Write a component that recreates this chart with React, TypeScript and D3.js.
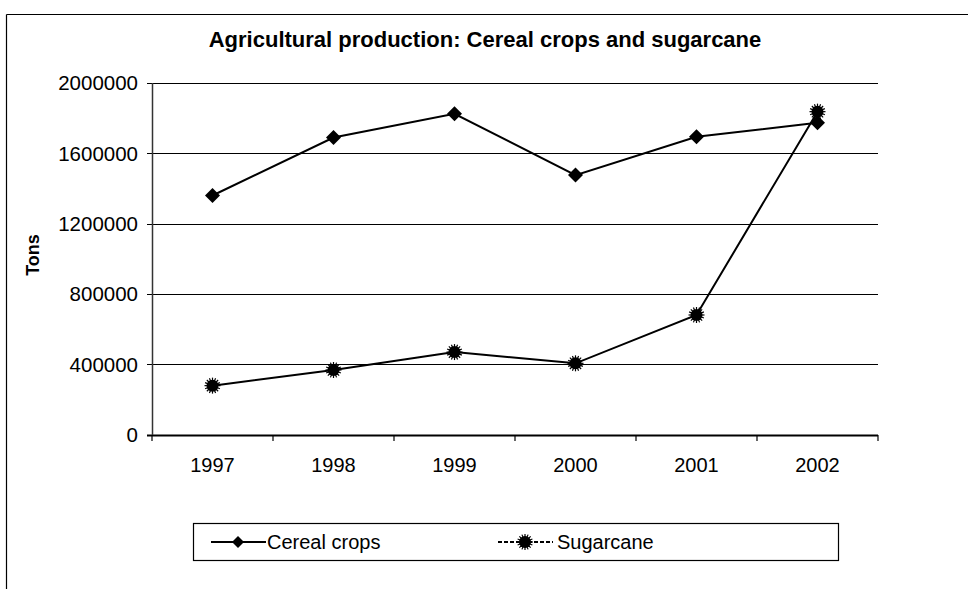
import React from "react";
import * as d3 from "d3";

const years = ["1997", "1998", "1999", "2000", "2001", "2002"];
const cerealCrops = [1360000, 1690000, 1825000, 1476000, 1694000, 1774000];
const sugarcane = [278000, 367000, 469000, 405000, 680000, 1837000];
const yTicks = [0, 400000, 800000, 1200000, 1600000, 2000000];
const titleText = "Agricultural production: Cereal crops and sugarcane";
const yAxisLabel = "Tons";
const seriesNames = ["Cereal crops", "Sugarcane"];

const W = 968;
const H = 589;
const FONT = "'Liberation Sans', Arial, Helvetica, sans-serif";

function Star({ x, y }: { x: number; y: number }) {
  const spikes = d3.range(16).map((i) => (i * Math.PI * 2) / 16);
  return (
    <g transform={`translate(${x},${y})`}>
      <circle r={6} fill="#000" />
      {spikes.map((a, i) => (
        <line
          key={i}
          x1={0}
          y1={0}
          x2={Math.cos(a) * 8}
          y2={Math.sin(a) * 8}
          stroke="#000"
          strokeWidth={1.2}
        />
      ))}
    </g>
  );
}

function Diamond({ x, y, s = 7.5 }: { x: number; y: number; s?: number }) {
  return (
    <path
      d={`M${x},${y - s}L${x + s},${y}L${x},${y + s}L${x - s},${y}Z`}
      fill="#000"
    />
  );
}

export default function App() {
  const x = d3.scaleBand<string>().domain(years).range([152, 878]).padding(0);
  const y = d3.scaleLinear().domain([0, 2000000]).range([434.5, 83]);
  const cx = (yr: string) => (x(yr) as number) + x.bandwidth() / 2;

  const line = d3
    .line<number>()
    .x((_, i) => cx(years[i]))
    .y((d) => y(d));

  const boundaries = years.map((yr) => x(yr) as number).concat([878]);

  return (
    <svg
      width={W}
      height={H}
      style={{ position: "absolute", left: 0, top: 0, background: "#fff" }}
      fontFamily={FONT}
    >
      <rect x={0} y={0} width={W} height={H} fill="#fff" />
      {/* outer frame */}
      <line x1={6.5} y1={14.5} x2={W} y2={14.5} stroke="#000" strokeWidth={1.2} />
      <line x1={6.5} y1={14.5} x2={6.5} y2={H} stroke="#000" strokeWidth={1.2} />

      {/* title */}
      <text x={485} y={47} textAnchor="middle" fontSize={22} fontWeight="bold">
        {titleText}
      </text>

      {/* gridlines */}
      {yTicks.map((t) => (
        <line
          key={t}
          x1={147}
          x2={878}
          y1={Math.round(y(t)) + 0.5}
          y2={Math.round(y(t)) + 0.5}
          stroke="#000"
          strokeWidth={t === 0 ? 2 : 1}
        />
      ))}
      {/* y axis line */}
      <line x1={152.5} x2={152.5} y1={83} y2={435} stroke="#333" strokeWidth={1.5} />
      {/* x ticks */}
      {boundaries.map((b, i) => (
        <line key={i} x1={b} x2={b} y1={435} y2={441} stroke="#000" strokeWidth={1.2} />
      ))}
      {/* y labels */}
      {yTicks.map((t) => (
        <text key={t} x={138} y={y(t)} dy="0.36em" textAnchor="end" fontSize={20.5}>
          {t}
        </text>
      ))}
      {/* x labels */}
      {years.map((yr) => (
        <text key={yr} x={cx(yr)} y={472} textAnchor="middle" fontSize={20}>
          {yr}
        </text>
      ))}
      {/* y axis title */}
      <text
        transform={`translate(39,255) rotate(-90)`}
        textAnchor="middle"
        fontSize={18}
        fontWeight="bold"
      >
        {yAxisLabel}
      </text>

      {/* series */}
      <path d={line(cerealCrops) || ""} fill="none" stroke="#000" strokeWidth={2} />
      <path d={line(sugarcane) || ""} fill="none" stroke="#000" strokeWidth={2} />
      {cerealCrops.map((v, i) => (
        <Diamond key={i} x={cx(years[i])} y={y(v)} />
      ))}
      {sugarcane.map((v, i) => (
        <Star key={i} x={cx(years[i])} y={y(v)} />
      ))}

      {/* legend */}
      <rect x={193.5} y={523.5} width={645} height={37} fill="none" stroke="#000" strokeWidth={1.2} />
      <line x1={211} x2={266} y1={542} y2={542} stroke="#000" strokeWidth={2} />
      <Diamond x={238} y={542} s={6} />
      <text x={267} y={549} fontSize={20}>
        {seriesNames[0]}
      </text>
      <line x1={498} x2={553} y1={542} y2={542} stroke="#000" strokeWidth={2} strokeDasharray="4,2" />
      <Star x={525} y={542} />
      <text x={557} y={549} fontSize={20}>
        {seriesNames[1]}
      </text>
    </svg>
  );
}
